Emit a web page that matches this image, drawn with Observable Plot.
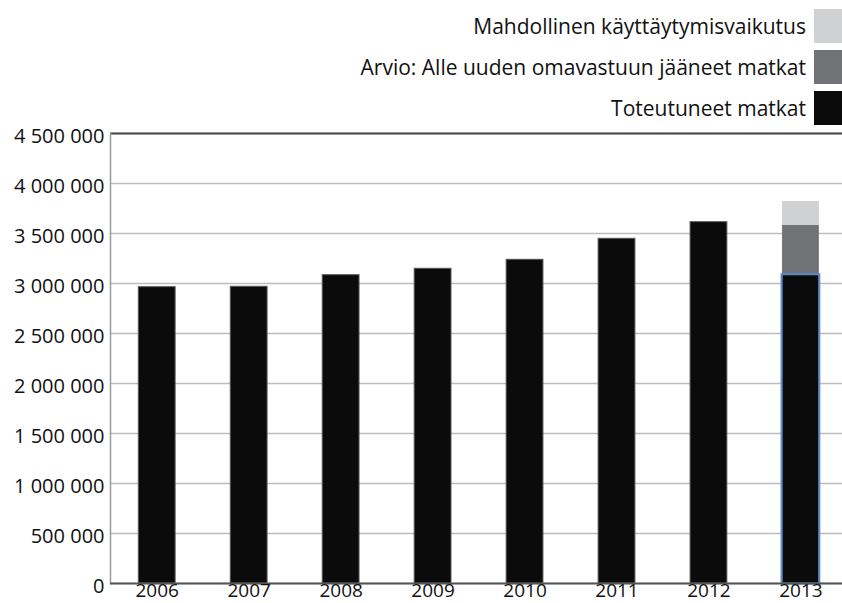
<!DOCTYPE html>
<html>
<head>
<meta charset="utf-8">
<script src="https://cdn.jsdelivr.net/npm/d3@7"></script>
<script src="https://cdn.jsdelivr.net/npm/@observablehq/plot@0.6"></script>
<style>
  html, body { margin: 0; padding: 0; background: #fff; }
  body { width: 842px; font-family: "Open Sans", "Noto Sans", sans-serif; }
  #legend { position: relative; width: 842px; height: 127px; }
  .row { position: absolute; right: 0; height: 34px; display: flex; align-items: center; }
  .row span { font-size: 21px; color: #111; margin-right: 8px; }
  .row i { display: block; width: 28px; height: 34px; }
  #chart svg { overflow: visible; }
</style>
</head>
<body>
<div id="legend"></div>
<div id="chart"></div>
<script>
const years = ["2006", "2007", "2008", "2009", "2010", "2011", "2012", "2013"];
const toteutuneet = [2963000, 2967000, 3083000, 3147000, 3237000, 3447000, 3613000, 3083000];
const arvio = [0, 0, 0, 0, 0, 0, 0, 500000];
const mahdollinen = [0, 0, 0, 0, 0, 0, 0, 237000];
const seriesNames = ["Toteutuneet matkat", "Arvio: Alle uuden omavastuun jääneet matkat", "Mahdollinen käyttäytymisvaikutus"];
const seriesColors = ["#0b0b0b", "#717275", "#d0d1d3"];
const yTicks = [0, 500000, 1000000, 1500000, 2000000, 2500000, 3000000, 3500000, 4000000, 4500000];

// legend (top to bottom: reversed series order)
const legend = document.getElementById("legend");
const tops = [9, 50, 91];
[2, 1, 0].forEach((si, k) => {
  const row = document.createElement("div");
  row.className = "row";
  row.style.top = tops[k] + "px";
  const s = document.createElement("span");
  s.textContent = seriesNames[si];
  const sw = document.createElement("i");
  sw.style.background = seriesColors[si];
  row.appendChild(s);
  row.appendChild(sw);
  legend.appendChild(row);
});

const data = [];
years.forEach((y, i) => {
  data.push({year: y, series: seriesNames[0], value: toteutuneet[i]});
  data.push({year: y, series: seriesNames[1], value: arvio[i]});
  data.push({year: y, series: seriesNames[2], value: mahdollinen[i]});
});

const fmt = v => d3.format(",")(v).replace(/,/g, " ");

const chart = Plot.plot({
  width: 842,
  height: 476,
  marginLeft: 110,
  marginRight: 0,
  marginTop: 6,
  marginBottom: 20,
  style: {fontFamily: "'Open Sans', 'Noto Sans', sans-serif", fontSize: "20px", color: "#111", background: "#fff", overflow: "visible"},
  x: {domain: years, paddingInner: 0.6, paddingOuter: 0.28, align: 0.55, round: false, label: null},
  y: {domain: [0, 4500000], label: null},
  color: {domain: seriesNames, range: seriesColors},
  marks: [
    Plot.ruleY(yTicks, {stroke: "#bdbdbd", strokeWidth: 1.5}),
    Plot.ruleY([4500000], {stroke: "#444", strokeWidth: 2}),
    Plot.frame({anchor: "left", stroke: "#9a9a9a", strokeWidth: 1.5}),
    Plot.barY(data, Plot.stackY({
      x: "year", y: "value", fill: "series", order: seriesNames,
      stroke: d => d.series === seriesNames[0] ? "#555" : "none", strokeWidth: 1,
      filter: d => d.value > 0
    })),
    Plot.barY(data.filter(d => d.year === "2013" && d.series === seriesNames[0]), {
      x: "year", y: "value", fill: "none", stroke: "#5b8ac6", strokeWidth: 2, inset: -0.5
    }),
    Plot.ruleY([0], {stroke: "#555", strokeWidth: 2}),
    Plot.axisY({ticks: yTicks, tickFormat: fmt, tickSize: 0, tickPadding: 6, dy: 3, fontSize: 20, label: null}),
    Plot.axisX({tickSize: 0, tickPadding: 0, fontSize: 19, label: null})
  ]
});
document.getElementById("chart").appendChild(chart);
</script>
</body>
</html>
